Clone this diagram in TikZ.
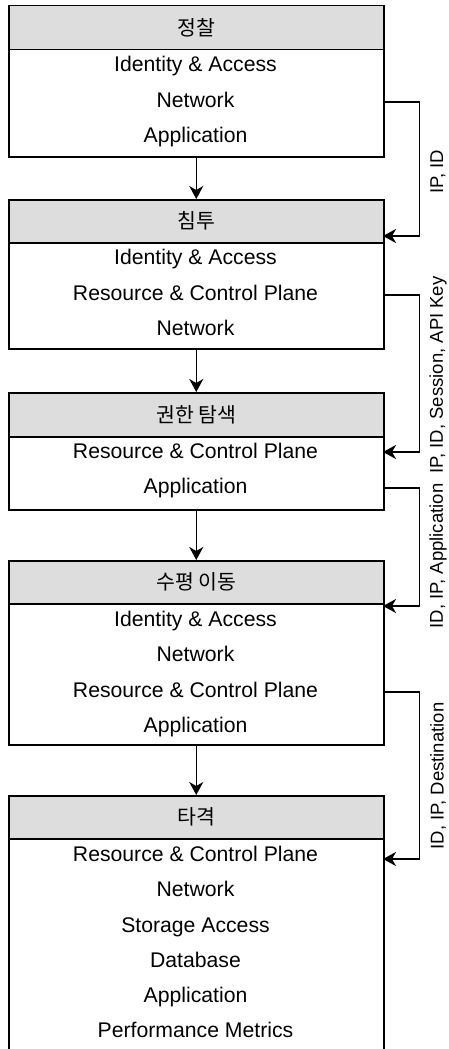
\documentclass[tikz,border=0pt]{standalone}
\usepackage{fontspec}
\setmainfont{Liberation Sans}
\newfontfamily\krfont{Noto Sans CJK KR}
\usetikzlibrary{arrows.meta}
\definecolor{hdrgray}{HTML}{DDDDDD}
\begin{document}
\begin{tikzpicture}[x=1pt,y=-1pt,
  hdr/.style={draw=black, line width=1.5pt, fill=hdrgray, anchor=north west,
    minimum width=375pt, inner sep=0pt, font=\krfont\fontsize{20.5}{24}\selectfont},
  body/.style={draw=black, line width=1.5pt, fill=white, anchor=north west,
    minimum width=375pt, inner sep=0pt},
  item/.style={inner sep=0pt, text height=15pt, text depth=4pt, font=\fontsize{21.2}{25}\selectfont},
  lbl/.style={inner sep=0pt, rotate=90, font=\fontsize{18.5}{22}\selectfont},
  flow/.style={line width=1.5pt, -{Stealth[length=13pt,width=14pt,inset=4pt]}},
  conn/.style={line width=1.5pt, -{Stealth[length=13pt,width=14pt,inset=4pt]}}
]
\useasboundingbox (0,0) rectangle (449,1049);

% Stage 1
\node[hdr, minimum height=44pt] (h1) at (8,5) {정찰};
\node[body, minimum height=107pt] (b1) at (8,49) {};
\node[item] (i11) at (195.5,66) {Identity \& Access};
\node[item] (i12) at (195.5,102) {Network};
\node[item] (i13) at (195.5,137) {Application};

% Stage 2
\node[hdr, minimum height=43pt] (h2) at (8,199) {침투};
\node[body, minimum height=106pt] (b2) at (8,242) {};
\node[item] (i21) at (195.5,259) {Identity \& Access};
\node[item] (i22) at (195.5,295) {Resource \& Control Plane};
\node[item] (i23) at (195.5,330) {Network};

% Stage 3
\node[hdr, minimum height=44pt] (h3) at (8,392) {권한 탐색};
\node[body, minimum height=73pt] (b3) at (8,436) {};
\node[item] (i31) at (195.5,453) {Resource \& Control Plane};
\node[item] (i32) at (195.5,488) {Application};

% Stage 4
\node[hdr, minimum height=43pt] (h4) at (8,560) {수평 이동};
\node[body, minimum height=141pt] (b4) at (8,603) {};
\node[item] (i41) at (195.5,621) {Identity \& Access};
\node[item] (i42) at (195.5,656) {Network};
\node[item] (i43) at (195.5,692) {Resource \& Control Plane};
\node[item] (i44) at (195.5,727) {Application};

% Stage 5
\node[hdr, minimum height=43pt] (h5) at (8,795) {타격};
\node[body, minimum height=213pt] (b5) at (8,838) {};
\node[item] (i51) at (195.5,856) {Resource \& Control Plane};
\node[item] (i52) at (195.5,891) {Network};
\node[item] (i53) at (195.5,927) {Storage Access};
\node[item] (i54) at (195.5,962) {Database};
\node[item] (i55) at (195.5,997) {Application};
\node[item] (i56) at (195.5,1032) {Performance Metrics};

% flow arrows
\draw[flow] (b1.south) -- (h2.north);
\draw[flow] (b2.south) -- (h3.north);
\draw[flow] (b3.south) -- (h4.north);
\draw[flow] (b4.south) -- (h5.north);

% side connectors
\coordinate (t1) at (383,236);
\coordinate (t2) at (383,452);
\coordinate (t3) at (383,606);
\coordinate (t4) at (383,859);
\draw[conn] (b1.east |- i12) -- ++(35,0) |- (t1);
\draw[conn] (b2.east |- i22) -- ++(35,0) |- (t2);
\draw[conn] (b3.east |- i32) -- ++(35,0) |- (t3);
\draw[conn] (b4.east |- i43) -- ++(35,0) |- (t4);

% labels
\node[lbl] (l1) at (438,172) {IP, ID};
\node[lbl] (l2) at (438,375) {IP, ID, Session, API Key};
\node[lbl] (l3) at (438,556) {ID, IP, Application};
\node[lbl] (l4) at (438,776) {ID, IP, Destination};
\end{tikzpicture}
\end{document}
